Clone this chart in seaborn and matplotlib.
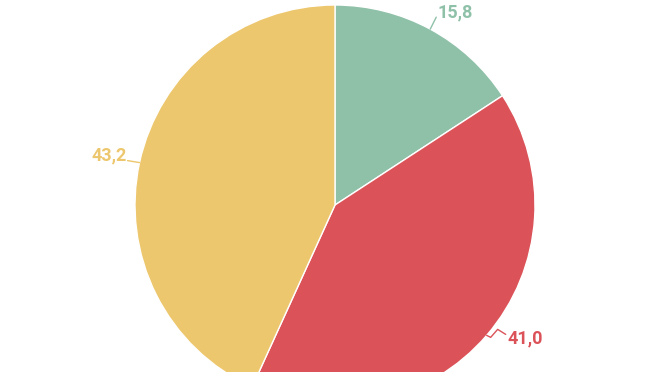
import numpy as np
import matplotlib
matplotlib.use("Agg")
import matplotlib.pyplot as plt
import seaborn as sns

labels = ["A", "B", "C"]
values = [15.8, 41.0, 43.2]
value_labels = ["15,8", "41,0", "43,2"]
colors = ["#8FC1A9", "#DB5359", "#EDC76E"]

sns.set_theme(style="white")
plt.rcParams['font.family'] = ['Roboto', 'DejaVu Sans']

fig = plt.figure(figsize=(6.72, 3.72), dpi=100)
W, H = 672, 372
cx, cy, r = 335, 205, 200
ax = fig.add_axes([(cx - r) / W, (H - (cy + r)) / H, 2 * r / W, 2 * r / H])
ax.set_xlim(-1, 1)
ax.set_ylim(-1, 1)
ax.axis("off")

wedges, _ = ax.pie(values, colors=colors, startangle=90, counterclock=False,
                   radius=1, wedgeprops=dict(edgecolor="white", linewidth=1))
ax.set_xlim(-1, 1)
ax.set_ylim(-1, 1)

# label leader offsets (in data units, 1 = 200px)
leaders = [
    [(0.0, 0.0), (0.03, 0.06)],
    [(0.0, 0.0), (0.02, -0.01), (0.055, 0.03), (0.095, 0.005)],
    [(0.0, 0.0), (-0.06, 0.01)],
]
text_off = [(0.035, 0.085, "left"), (0.105, -0.015, "left"), (-0.065, 0.035, "right")]

for w, lab, col, ld, (tx, ty, ha) in zip(wedges, value_labels, colors, leaders, text_off):
    ang = np.deg2rad((w.theta1 + w.theta2) / 2)
    x0, y0 = np.cos(ang), np.sin(ang)
    xs = [x0 + dx for dx, dy in ld]
    ys = [y0 + dy for dx, dy in ld]
    ax.plot(xs, ys, color=col, lw=1, clip_on=False)
    ax.text(x0 + tx, y0 + ty, lab, color=col, ha=ha, va="center",
            fontsize=13, fontweight="bold", clip_on=False)

fig.savefig("out.png", dpi=100)
